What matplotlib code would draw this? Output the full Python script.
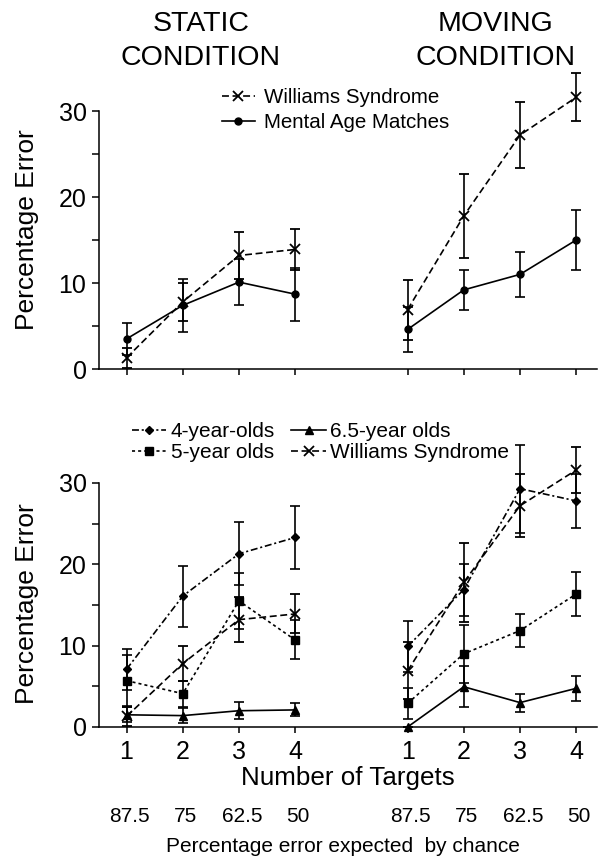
import matplotlib
matplotlib.use("Agg")
import matplotlib.pyplot as plt
from matplotlib.transforms import blended_transform_factory
import numpy as np

plt.rcParams['font.family'] = ['Liberation Sans', 'DejaVu Sans']
plt.rcParams['lines.scale_dashes'] = False

# ---------------- data ----------------
targets = [1, 2, 3, 4]
chance_labels = ["87.5", "75", "62.5", "50"]

# Williams Syndrome (same in both panels)
ws_static = [1.3, 7.8, 13.2, 13.9]
ws_static_err = [1.15, 2.2, 2.75, 2.4]
ws_moving = [6.9, 17.8, 27.2, 31.6]
ws_moving_err = [3.5, 4.85, 3.85, 2.8]

# Mental age matches
mam_static = [3.5, 7.4, 10.1, 8.7]
mam_static_err = [1.85, 3.05, 2.7, 3.1]
mam_moving = [4.6, 9.2, 11.0, 15.0]
mam_moving_err = [2.6, 2.35, 2.6, 3.5]

# 4-year-olds
y4_static = [7.1, 16.1, 21.3, 23.3]
y4_static_err = [2.5, 3.75, 3.9, 3.9]
y4_moving = [9.9, 16.9, 29.3, 27.8]
y4_moving_err = [3.1, 3.2, 5.4, 3.3]

# 5-year olds
y5_static = [5.7, 4.1, 15.5, 10.7]
y5_static_err = [3.1, 1.6, 3.4, 2.4]
y5_moving = [2.9, 9.0, 11.85, 16.35]
y5_moving_err = [1.9, 3.6, 2.05, 2.75]

# 6.5-year olds
y65_static = [1.5, 1.4, 2.0, 2.1]
y65_static_err = [0.9, 0.9, 1.05, 0.8]
y65_moving = [0.0, 4.95, 3.0, 4.75]
y65_moving_err = [0.0, 2.55, 1.1, 1.5]

# ---------------- layout ----------------
W, H = 604, 867
fig = plt.figure(figsize=(W / 100, H / 100), dpi=100)

def fx(px):
    return px / W

def fy(py):
    return 1 - py / H

GAP = 5  # offset of the moving condition group on the x axis
x_static = np.array(targets, dtype=float)
x_moving = np.array(targets, dtype=float) + GAP

ax_top = fig.add_axes([fx(99), fy(369), fx(597) - fx(99), (369 - 111) / H])
ax_bot = fig.add_axes([fx(99), fy(727), fx(597) - fx(99), (727 - 483) / H])

styles = {
    'ws': dict(marker='x', ms=7, mew=1.3, dashes=(5, 2.6)),
    'mam': dict(marker='o', ms=5, linestyle='-'),
    'y4': dict(marker='D', ms=4.5, dashes=(5, 2, 1.5, 2)),
    'y5': dict(marker='s', ms=5.5, dashes=(2.2, 2.2)),
    'y65': dict(marker='^', ms=6, linestyle='-'),
}

def draw(ax, x, y, err, key):
    st = styles[key]
    cont = ax.errorbar(x, y, yerr=err, color='black', ecolor='black',
                       lw=1.2, elinewidth=1.2, capsize=3.6, capthick=1.2,
                       clip_on=False, **st)
    for art in cont.get_children():
        art.set_clip_on(False)
    return cont.lines[0]

# top panel
h_ws = draw(ax_top, x_static, ws_static, ws_static_err, 'ws')
draw(ax_top, x_moving, ws_moving, ws_moving_err, 'ws')
h_mam = draw(ax_top, x_static, mam_static, mam_static_err, 'mam')
draw(ax_top, x_moving, mam_moving, mam_moving_err, 'mam')

# bottom panel
h_y4 = draw(ax_bot, x_static, y4_static, y4_static_err, 'y4')
draw(ax_bot, x_moving, y4_moving, y4_moving_err, 'y4')
h_y5 = draw(ax_bot, x_static, y5_static, y5_static_err, 'y5')
draw(ax_bot, x_moving, y5_moving, y5_moving_err, 'y5')
h_y65 = draw(ax_bot, x_static, y65_static, y65_static_err, 'y65')
draw(ax_bot, x_moving, y65_moving, y65_moving_err, 'y65')
h_ws2 = draw(ax_bot, x_static, ws_static, ws_static_err, 'ws')
draw(ax_bot, x_moving, ws_moving, ws_moving_err, 'ws')

all_x = np.concatenate([x_static, x_moving])
for ax in (ax_top, ax_bot):
    ax.set_xlim(0.51, 9.37)
    ax.set_ylim(0, 30)
    ax.spines['top'].set_visible(False)
    ax.spines['right'].set_visible(False)
    ax.spines['left'].set_linewidth(1.1)
    ax.spines['bottom'].set_linewidth(1.1)
    ax.set_yticks([0, 10, 20, 30])
    ax.set_yticks([5, 15, 25], minor=True)
    ax.set_xticks(all_x)
    ax.tick_params(axis='y', which='both', direction='out', length=5, width=1.1,
                   labelsize=18, pad=4)
    ax.tick_params(axis='x', which='major', direction='out', length=4.5, width=1.1,
                   labelsize=18, pad=5)
    ax.patch.set_alpha(0)

ax_top.set_xticklabels([])
ax_bot.set_xticklabels([str(t) for t in targets] * 2)

# legends
fig.legend([h_ws, h_mam], ['Williams Syndrome', 'Mental Age Matches'],
           loc='upper left', bbox_to_anchor=(fx(222), fy(88)),
           bbox_transform=fig.transFigure, frameon=False, fontsize=14.8,
           handlelength=1.6, handletextpad=0.45, labelspacing=0.28,
           borderpad=0, borderaxespad=0)

fig.legend([h_y4, h_y5, h_y65, h_ws2],
           ['4-year-olds', '5-year olds', '6.5-year olds', 'Williams Syndrome'],
           loc='upper left', bbox_to_anchor=(fx(132), fy(422)),
           bbox_transform=fig.transFigure, frameon=False, fontsize=15, ncol=2,
           handlelength=1.65, handletextpad=0.2, labelspacing=0.12,
           columnspacing=0.8, borderpad=0, borderaxespad=0)

# titles
fig.text(fx(201), fy(24), "STATIC", ha='center', va='center', fontsize=20.5)
fig.text(fx(201), fy(58), "CONDITION", ha='center', va='center', fontsize=20.5)
fig.text(fx(496), fy(24), "MOVING", ha='center', va='center', fontsize=20.5)
fig.text(fx(496), fy(58), "CONDITION", ha='center', va='center', fontsize=20.5)

# y labels
fig.text(fx(27), fy(230), "Percentage Error", rotation=90, ha='center', va='center',
         fontsize=19)
fig.text(fx(27), fy(604), "Percentage Error", rotation=90, ha='center', va='center',
         fontsize=19)

# x labels
fig.text(fx(348), fy(778), "Number of Targets", ha='center', va='center', fontsize=18.7)

trans = blended_transform_factory(ax_bot.transData, fig.transFigure)
for xs in (x_static, x_moving):
    for xv, lab in zip(xs, chance_labels):
        ax_bot.text(xv + 0.05, fy(816), lab, transform=trans, ha='center', va='center',
                    fontsize=15)
fig.text(fx(343), fy(847), "Percentage error expected  by chance", ha='center',
         va='center', fontsize=15)

fig.savefig("out.png", dpi=100)
